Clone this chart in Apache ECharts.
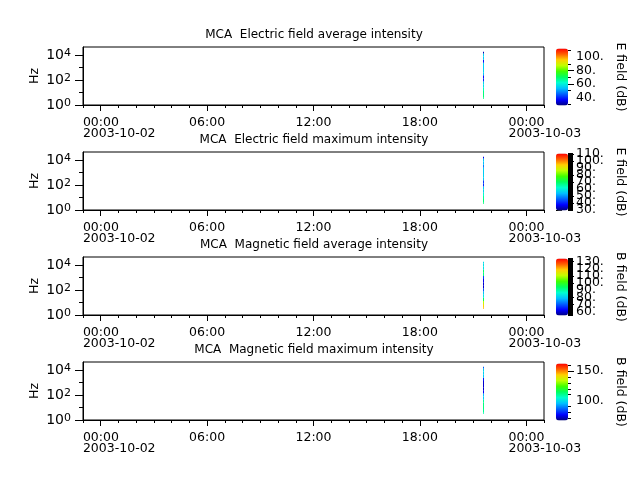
<!DOCTYPE html>
<html><head><meta charset="utf-8">
<script src="https://cdn.jsdelivr.net/npm/echarts@6/dist/echarts.min.js"></script>
<style>html,body{margin:0;padding:0;background:#fff}#c{width:640px;height:480px}</style>
</head><body><div id="c"></div>
<script>
// ---- data ----
const panelTitles = [
  'MCA  Electric field average intensity',
  'MCA  Electric field maximum intensity',
  'MCA  Magnetic field average intensity',
  'MCA  Magnetic field maximum intensity'
];
const cbarNames = ['E field (dB)', 'E field (dB)', 'B field (dB)', 'B field (dB)'];
// MCA channel centre frequencies (Hz), lowest -> highest
const channelFreqHz = [3.16, 5.62, 10, 17.8, 31.6, 56.2, 100, 178, 316, 562, 1000, 1780, 3160, 5620, 10000, 17800];
// single burst of data
const burstStart = '2003-10-02T21:33:36Z';
const burstEnd = '2003-10-02T21:36:58Z';
// intensities (dB) per channel, lowest -> highest frequency
const eAvg = [68, 69, 68, 64, 58, 57, 40, 38, 55, 56, 55, 56, 38, 55, 56, 31];
const eMax = [68, 68, 66, 62, 56, 56, 41, 42, 55, 56, 55, 55, 48, 54, 55, 36];
const bAvg = [120, 118, 110, 95, 84, 80, 70, 60, 60, 62, 68, 92, 94, 83, 83, 82];
const bMax = [108, 110, 112, 112, 110, 97, 95, 75, 72, 72, 72, 78, 96, 98, 98, 85];
const panelValues = [eAvg, eMax, bAvg, bMax];
// colour bar ranges & ticks
const cbarRange = [[28, 113], [29, 111], [55, 134], [66, 163]];
const cbarLabels = [[40, 60, 80, 100], [30, 40, 50, 60, 70, 80, 90, 100, 110], [60, 70, 80, 90, 100, 110, 120, 130], [100, 150]];
const cbarMinor = [[30, 50, 70, 90, 110], [], [], [70, 80, 90, 110, 120, 130, 140, 160]];
const cbarDense = [false, true, true, false];
// axes
const xStart = '2003-10-01T23:00:00Z';
const xEnd = '2003-10-03T01:00:00Z';
const xMajorTicks = ['2003-10-02T00:00:00Z', '2003-10-02T06:00:00Z', '2003-10-02T12:00:00Z', '2003-10-02T18:00:00Z', '2003-10-03T00:00:00Z'];
const xMinorStepHours = 1;
const yMajorExp = [0, 2, 4];
const yMinorExp = [1, 3];
const yMaxHz = 43600;
const palette = ['#000080', '#0000ff', '#0060ff', '#00c0ff', '#00ffd0', '#00ff60', '#40ff00', '#c0ff00', '#ffd000', '#ff6000', '#ff0000'];

// ---- build ----
const FONT = 'DejaVu Sans';
const t0 = Date.parse(xStart), t1 = Date.parse(xEnd);
const majorT = xMajorTicks.map(s => Date.parse(s));
const minorT = [];
for (let t = t0; t <= t1; t += xMinorStepHours * 3600e3) minorT.push(t);
const halfBin = (Math.log10(channelFreqHz[1]) - Math.log10(channelFreqHz[0])) / 2;
const lgLo = Math.log10(channelFreqHz[0]), lgHi = Math.log10(channelFreqHz[channelFreqHz.length - 1]);
const pad2 = n => (n < 10 ? '0' : '') + n;

const grids = [], xAxes = [], yAxes = [], series = [], visualMaps = [], titles = [];
for (let i = 0; i < 4; i++) {
  const off = 105 * i;
  // main panel
  grids.push({left: 83, width: 461, top: 47 + off, height: 58, show: true, borderColor: '#000', borderWidth: 1, backgroundColor: 'transparent'});
  const g = grids.length - 1;
  titles.push({text: panelTitles[i], left: 314, top: 29 + off, textAlign: 'center', padding: 0,
    textStyle: {fontFamily: FONT, fontSize: 12, fontWeight: 'normal', color: '#000'}});
  xAxes.push({gridIndex: g, type: 'value', min: t0, max: t1, position: 'bottom',
    axisLine: {show: true, lineStyle: {color: '#000'}},
    axisTick: {show: true, length: 6, customValues: majorT, lineStyle: {color: '#000'}},
    splitLine: {show: false},
    axisLabel: {customValues: majorT, margin: 12, color: '#000', fontFamily: FONT, fontSize: 12.5, lineHeight: 11,
      showMinLabel: true, showMaxLabel: true,
      formatter: v => {
        const d = new Date(v);
        const hm = pad2(d.getUTCHours()) + ':' + pad2(d.getUTCMinutes());
        if (d.getUTCHours() === 0) {
          const ds = d.getUTCFullYear() + '-' + pad2(d.getUTCMonth() + 1) + '-' + pad2(d.getUTCDate());
          return '{t|' + hm + '}\n{t|' + ds + '}';
        }
        return hm;
      },
      rich: {t: {align: 'left', padding: [0, 0, 0, 37], fontFamily: FONT, fontSize: 12.5, lineHeight: 11, color: '#000'}}
    }});
  xAxes.push({gridIndex: g, type: 'value', min: t0, max: t1, position: 'bottom',
    axisLine: {show: false}, axisLabel: {show: false}, splitLine: {show: false},
    axisTick: {show: true, length: 3, customValues: minorT, lineStyle: {color: '#000'}}});
  const xMain = xAxes.length - 2;
  yAxes.push({gridIndex: g, type: 'value', min: 0, max: Math.log10(yMaxHz), position: 'left',
    name: 'Hz', nameLocation: 'middle', nameRotate: 90, nameGap: 42, nameMoveOverlap: false,
    nameTextStyle: {fontFamily: FONT, fontSize: 12.5, color: '#000'},
    axisLine: {show: true, lineStyle: {color: '#000'}},
    axisTick: {show: true, length: 8, customValues: yMajorExp, lineStyle: {color: '#000'}},
    splitLine: {show: false},
    axisLabel: {customValues: yMajorExp, margin: 12, color: '#000', showMinLabel: true, showMaxLabel: true,
      formatter: v => '{b|10}{s|' + v + '}',
      rich: {b: {fontFamily: FONT, fontSize: 14, color: '#000', verticalAlign: 'bottom', lineHeight: 14},
             s: {fontFamily: FONT, fontSize: 11, color: '#000', verticalAlign: 'top', lineHeight: 11, padding: [0, 0, 6, 0]}}}});
  const yMain = yAxes.length - 1;
  yAxes.push({gridIndex: g, type: 'value', min: 0, max: Math.log10(yMaxHz), position: 'left',
    axisLine: {show: false}, axisLabel: {show: false}, splitLine: {show: false},
    axisTick: {show: true, length: 4, customValues: yMinorExp, lineStyle: {color: '#000'}}});

  const data = panelValues[i].map((v, k) => [Date.parse(burstStart), Date.parse(burstEnd), channelFreqHz[k], v]);
  series.push({type: 'custom', xAxisIndex: xMain, yAxisIndex: yMain, clip: true, data: data,
    renderItem: (params, api) => {
      const lf = Math.log10(api.value(2));
      const lo = Math.max(lf - halfBin, lgLo), hi = Math.min(lf + halfBin, lgHi);
      const p0 = api.coord([api.value(0), hi]);
      const p1 = api.coord([api.value(1), lo]);
      return {type: 'rect', shape: {x: p0[0], y: p0[1], width: p1[0] - p0[0], height: p1[1] - p0[1]},
        style: {fill: api.visual('color')}};
    }});
  const sIdx = series.length - 1;

  // colour bar
  const r = cbarRange[i];
  visualMaps.push({type: 'continuous', seriesIndex: sIdx, dimension: 3, min: r[0], max: r[1],
    inRange: {color: palette}, show: true, calculable: false, hoverLink: false, realtime: false,
    orient: 'vertical', left: 556, top: 48.5 + off, itemWidth: 12, itemHeight: 57, padding: 0, text: null});
  grids.push({left: 556, width: 12, top: 48.5 + off, height: 57, show: false});
  const cg = grids.length - 1;
  xAxes.push({gridIndex: cg, type: 'value', min: 0, max: 1, show: false});
  // labels split over 3 overlaid axes so that ECharts does not drop overlapping neighbours
  for (let part = 0; part < 3; part++) {
    const vals = cbarLabels[i].filter((v, k) => k % 3 === part);
    if (!vals.length) continue;
    const ax = {gridIndex: cg, type: 'value', min: r[0], max: r[1], position: 'right',
      axisLine: {show: false}, splitLine: {show: false},
      axisTick: {show: true, length: 6, customValues: vals, lineStyle: {color: '#000'}},
      axisLabel: {customValues: vals, margin: 8, color: '#000', fontFamily: FONT, fontSize: 12.5,
        showMinLabel: true, showMaxLabel: true, formatter: v => v + '.'}};
    if (part === 0) {
      Object.assign(ax, {name: cbarNames[i], nameLocation: 'middle', nameRotate: -90, nameGap: 46,
        nameTextStyle: {fontFamily: FONT, fontSize: 12.5, color: '#000'}});
    }
    yAxes.push(ax);
  }
  if (cbarMinor[i].length) {
    yAxes.push({gridIndex: cg, type: 'value', min: r[0], max: r[1], position: 'right',
      axisLine: {show: false}, splitLine: {show: false}, axisLabel: {show: false},
      axisTick: {show: true, length: 3, customValues: cbarMinor[i], lineStyle: {color: '#000'}}});
  }
  if (cbarDense[i]) {
    yAxes.push({gridIndex: cg, type: 'value', min: r[0], max: r[1], interval: 0.5, position: 'right',
      axisLine: {show: false}, splitLine: {show: false}, axisLabel: {show: false},
      axisTick: {show: true, length: 5, lineStyle: {color: '#000'}}});
  }
}

const chart = echarts.init(document.getElementById('c'), null, {renderer: 'canvas'});
chart.setOption({
  backgroundColor: '#fff', animation: false,
  title: titles, grid: grids, xAxis: xAxes, yAxis: yAxes, visualMap: visualMaps, series: series
});
</script></body></html>
